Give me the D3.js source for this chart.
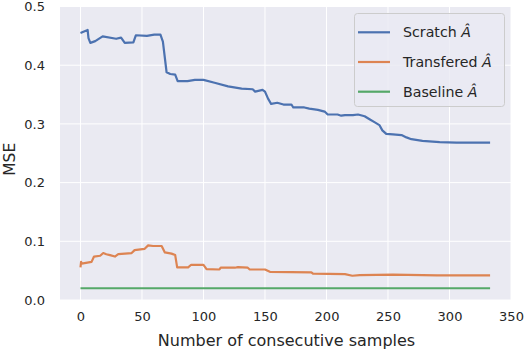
<!DOCTYPE html>
<html><head><meta charset="utf-8">
<script src="https://cdn.jsdelivr.net/npm/d3@7"></script>
<style>body{margin:0;background:#fff}svg{display:block}text{font-family:"DejaVu Sans",sans-serif;fill:#262626}</style>
</head><body><svg id="c" width="526" height="350"></svg>
<script>
const xTicks=[0,50,100,150,200,250,300,350];
const yTicks=[0.0,0.1,0.2,0.3,0.4,0.5];
const seriesNames=["Scratch","Transfered","Baseline"];
const colors=["#4c72b0","#dd8452","#55a868"];
const scratchX=[0,5.8,6.5,8,12,18,29,33,36,43,45,54,60,65,67,70,73,77,79,87,93,100,109,120,131,140,142,148,150,152.5,155,160,165,171.5,173,182,186,193,198.5,201,209,212,215,221.5,225.6,231,235,239,243,245.4,248.6,254,261,265,269,278,292,305.5,324,333];
const scratchY=[0.455,0.46,0.446,0.438,0.441,0.449,0.445,0.447,0.438,0.439,0.451,0.450,0.452,0.452,0.44,0.388,0.385,0.384,0.373,0.373,0.375,0.375,0.370,0.364,0.360,0.359,0.355,0.358,0.355,0.343,0.334,0.336,0.333,0.333,0.328,0.328,0.326,0.324,0.321,0.316,0.316,0.314,0.315,0.315,0.316,0.313,0.308,0.303,0.298,0.289,0.283,0.282,0.281,0.277,0.274,0.271,0.269,0.268,0.268,0.268];
const transX=[0,0.5,1,9,11,16,18.5,21,24,28,30.7,41.6,44,52,55,59,66,68.6,74,77,78.6,87.5,90,100,102.5,113,114,125.5,128,136,137.6,150,154,187.7,189,215,221,227,254,290,333];
const transY=[0.0556,0.065,0.062,0.065,0.074,0.0754,0.080,0.078,0.0765,0.074,0.078,0.080,0.085,0.087,0.093,0.092,0.092,0.081,0.079,0.0765,0.0556,0.0556,0.060,0.0600,0.0527,0.052,0.055,0.055,0.056,0.055,0.052,0.052,0.048,0.047,0.0448,0.044,0.0413,0.0425,0.0432,0.042,0.042];
const baseX=[0,333];
const baseY=[0.02,0.02];

const svg=d3.select("#c");
const L=60,R=511,T=6.5,B=300;
const x=d3.scaleLinear().domain([-16.65,350]).range([L,R]);
const y=d3.scaleLinear().domain([0,0.5]).range([B,T]);
svg.append("rect").attr("x",L).attr("y",T).attr("width",R-L).attr("height",B-T).attr("fill","#eaeaf2");
const g=svg.append("g");
xTicks.filter(t=>x(t)<=R+0.5).forEach(t=>g.append("line").attr("x1",x(t)).attr("x2",x(t)).attr("y1",T).attr("y2",B).attr("stroke","#fff").attr("stroke-width",1));
yTicks.forEach(t=>g.append("line").attr("x1",L).attr("x2",R).attr("y1",y(t)).attr("y2",y(t)).attr("stroke","#fff").attr("stroke-width",1));
const xa=svg.append("g").attr("transform",`translate(0,${B})`).call(d3.axisBottom(x).tickValues(xTicks).tickFormat(d3.format("d")).tickSize(0).tickPadding(12));
xa.select(".domain").remove();
xa.selectAll("text").attr("font-size",13).attr("fill","#262626").attr("font-family","DejaVu Sans");
const ya=svg.append("g").attr("transform",`translate(${L},0)`).call(d3.axisLeft(y).tickValues(yTicks).tickFormat(d3.format(".1f")).tickSize(0).tickPadding(15));
ya.select(".domain").remove();
ya.selectAll("text").attr("font-size",13).attr("fill","#262626").attr("font-family","DejaVu Sans");
svg.append("text").attr("x",(L+R)/2+1).attr("y",345.5).attr("text-anchor","middle").attr("font-size",16).text("Number of consecutive samples");
svg.append("text").attr("transform",`translate(14.5,${(T+B)/2+6}) rotate(-90)`).attr("text-anchor","middle").attr("font-size",15.5).text("MSE");

const line=d3.line().x(d=>x(d[0])).y(d=>y(d[1]));
const data=[d3.zip(scratchX,scratchY),d3.zip(transX,transY),d3.zip(baseX,baseY)];
data.forEach((d,i)=>svg.append("path").attr("d",line(d)).attr("fill","none").attr("stroke",colors[i]).attr("stroke-width",2.2).attr("stroke-linejoin","round"));

const lg=svg.append("g");
lg.append("rect").attr("x",354.5).attr("y",13.5).attr("width",150).attr("height",93).attr("rx",3).attr("fill","#eaeaf2").attr("fill-opacity",0.8).attr("stroke","#cccccc").attr("stroke-width",1);
const rows=[32.3,62,91.7];
seriesNames.forEach((n,i)=>{
  lg.append("line").attr("x1",358).attr("x2",390).attr("y1",rows[i]).attr("y2",rows[i]).attr("stroke",colors[i]).attr("stroke-width",2.2);
  const t=lg.append("text").attr("x",403).attr("y",rows[i]+5).attr("font-size",14.2);
  t.append("tspan").text(n+" ");
  t.append("tspan").attr("font-style","italic").text("Â");
});
</script></body></html>
